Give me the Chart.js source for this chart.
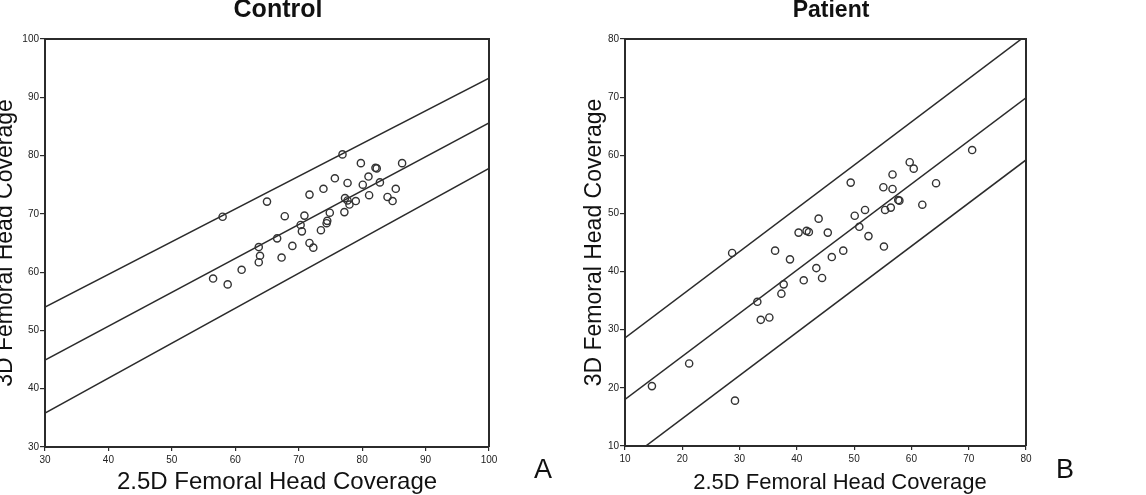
<!DOCTYPE html>
<html>
<head>
<meta charset="utf-8">
<script src="https://cdn.jsdelivr.net/npm/chart.js@4.4.1/dist/chart.umd.min.js"></script>
<style>
  html, body { margin: 0; padding: 0; background: #fff; }
  body { width: 1146px; height: 495px; position: relative; overflow: hidden; }
  canvas { position: absolute; top: 0; }
  #controlChart { left: 0; }
  #patientChart { left: 560px; }
</style>
</head>
<body>
<canvas id="controlChart" width="560" height="495"></canvas>
<canvas id="patientChart" width="586" height="495"></canvas>
<script>
// Control panel: 2.5D vs 3D femoral head coverage
const controlX = [58.0, 65.0, 76.9, 79.8, 82.1, 82.3, 86.3, 75.7, 77.7, 81.0, 80.1, 82.8, 71.7, 73.9, 81.1, 84.0, 85.3, 84.8, 77.3, 77.7, 78.0, 79.0, 77.2, 67.8, 70.9, 70.3, 70.5, 74.9, 74.5, 74.4, 73.5, 66.6, 63.7, 63.9, 63.7, 69.0, 71.7, 72.3, 67.3, 61.0, 56.5, 58.8];
const controlY = [69.5, 72.1, 80.2, 78.7, 77.9, 77.8, 78.7, 76.1, 75.3, 76.4, 75.0, 75.4, 73.3, 74.3, 73.2, 72.9, 74.3, 72.2, 72.7, 72.3, 71.6, 72.2, 70.3, 69.6, 69.7, 68.1, 67.0, 70.2, 68.8, 68.4, 67.2, 65.8, 64.3, 62.8, 61.7, 64.5, 65.0, 64.2, 62.5, 60.4, 58.9, 57.9];
const controlLineX = [30, 100];
const controlUpper = [54.0, 93.3];
const controlFit = [44.9, 85.6];
const controlLower = [35.8, 77.8];
const controlTicks = [30, 40, 50, 60, 70, 80, 90, 100];

// Patient panel
const patientX = [14.7, 21.2, 29.2, 28.7, 33.1, 33.7, 35.2, 36.2, 37.3, 37.7, 38.8, 40.3, 41.2, 41.7, 42.1, 43.8, 43.4, 44.4, 45.4, 46.1, 48.1, 49.4, 50.1, 50.9, 51.9, 52.5, 55.1, 55.2, 55.4, 56.4, 56.7, 56.7, 57.7, 57.9, 59.7, 60.4, 61.9, 64.3, 70.6];
const patientY = [20.3, 24.2, 17.8, 43.2, 34.8, 31.7, 32.1, 43.6, 36.2, 37.8, 42.1, 46.7, 38.5, 47.0, 46.8, 49.1, 40.6, 38.9, 46.7, 42.5, 43.6, 55.3, 49.6, 47.7, 50.6, 46.1, 54.5, 44.3, 50.6, 51.0, 54.2, 56.7, 52.3, 52.2, 58.8, 57.7, 51.5, 55.2, 60.9];
const patientLineX = [10, 80];
const patientUpper = [28.6, 80.6];
const patientFit = [18.0, 69.9];
const patientLower = [7.3, 59.2];
const patientTicks = [10, 20, 30, 40, 50, 60, 70, 80];

const ink = '#2b2b2b';

// titles, x axis title and panel letter drawn at fixed spots
const panelText = {
  id: 'panelText',
  afterDraw(chart, args, opts) {
    const ctx = chart.ctx;
    const area = chart.chartArea;
    ctx.save();
    ctx.strokeStyle = ink;
    ctx.lineWidth = 2;
    ctx.beginPath();
    ctx.moveTo(area.left, area.top);
    ctx.lineTo(area.right, area.top);
    ctx.lineTo(area.right, area.bottom);
    ctx.stroke();

    ctx.fillStyle = '#111';
    ctx.textAlign = 'center';
    ctx.textBaseline = 'alphabetic';
    ctx.font = 'bold ' + opts.titleSize + 'px "Liberation Sans", Arial, sans-serif';
    ctx.fillText(opts.title, opts.titleX, 17);
    ctx.font = opts.xTitleSize + 'px "Liberation Sans", Arial, sans-serif';
    ctx.fillText('2.5D Femoral Head Coverage', opts.xTitleX, 489);
    ctx.font = '27px "Liberation Sans", Arial, sans-serif';
    ctx.fillText(opts.letter, opts.letterX, 478);
    ctx.restore();
  }
};

function lineSet(xs, ys) {
  return {
    type: 'line',
    data: xs.map((x, i) => ({ x: x, y: ys[i] })),
    borderColor: ink,
    borderWidth: 1.5,
    pointRadius: 0,
    fill: false,
    tension: 0
  };
}

function makePanel(id, cfg) {
  const ctx = document.getElementById(id).getContext('2d');
  return new Chart(ctx, {
    type: 'scatter',
    data: {
      datasets: [
        {
          data: cfg.xs.map((x, i) => ({ x: x, y: cfg.ys[i] })),
          pointStyle: 'circle',
          pointRadius: 3.6,
          backgroundColor: 'rgba(0,0,0,0)',
          borderColor: '#333',
          borderWidth: 1.4
        },
        lineSet(cfg.lineX, cfg.upper),
        lineSet(cfg.lineX, cfg.fit),
        lineSet(cfg.lineX, cfg.lower)
      ]
    },
    options: {
      responsive: false,
      animation: false,
      events: [],
      layout: { padding: cfg.padding },
      plugins: {
        legend: { display: false },
        tooltip: { enabled: false },
        panelText: cfg.text
      },
      scales: {
        x: {
          type: 'linear',
          min: cfg.ticks[0],
          max: cfg.ticks[cfg.ticks.length - 1],
          afterBuildTicks: (scale) => { scale.ticks = cfg.ticks.map(v => ({ value: v })); },
          afterFit: (scale) => { scale.height = cfg.xAxisHeight; },
          grid: { drawOnChartArea: false, drawTicks: true, tickLength: 4, color: ink, lineWidth: 1.2 },
          border: { display: true, color: ink, width: 2 },
          ticks: { padding: 3, maxRotation: 0, color: '#222', font: { size: 10, family: '"Liberation Sans", Arial' } },
          title: { display: false }
        },
        y: {
          type: 'linear',
          min: cfg.ticks[0],
          max: cfg.ticks[cfg.ticks.length - 1],
          afterBuildTicks: (scale) => { scale.ticks = cfg.ticks.map(v => ({ value: v })); },
          afterFit: (scale) => { scale.width = cfg.yAxisWidth; },
          grid: { drawOnChartArea: false, drawTicks: true, tickLength: 5, color: ink, lineWidth: 1.2 },
          border: { display: true, color: ink, width: 2 },
          ticks: { padding: 1, color: '#222', font: { size: 10, family: '"Liberation Sans", Arial' } },
          title: {
            display: true,
            text: '3D Femoral Head Coverage',
            color: '#111',
            font: { size: 23, family: '"Liberation Sans", Arial', lineHeight: 1 },
            padding: { top: cfg.yTitlePad, bottom: 0 }
          }
        }
      }
    },
    plugins: [panelText]
  });
}

makePanel('controlChart', {
  xs: controlX, ys: controlY,
  lineX: controlLineX, upper: controlUpper, fit: controlFit, lower: controlLower,
  ticks: controlTicks,
  padding: { left: 0, top: 39, right: 71, bottom: 0 },
  yAxisWidth: 45, xAxisHeight: 48, yTitlePad: -6,
  text: { title: 'Control', titleSize: 25, titleX: 278, xTitleSize: 24, xTitleX: 277, letter: 'A', letterX: 543 }
});

makePanel('patientChart', {
  xs: patientX, ys: patientY,
  lineX: patientLineX, upper: patientUpper, fit: patientFit, lower: patientLower,
  ticks: patientTicks,
  padding: { left: 0, top: 39, right: 120, bottom: 0 },
  yAxisWidth: 65, xAxisHeight: 49, yTitlePad: 23,
  text: { title: 'Patient', titleSize: 23, titleX: 271, xTitleSize: 22, xTitleX: 280, letter: 'B', letterX: 505 }
});
</script>
</body>
</html>
